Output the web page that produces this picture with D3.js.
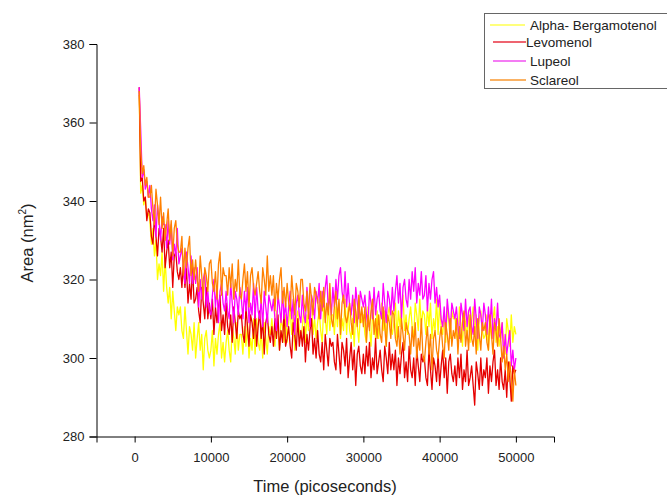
<!DOCTYPE html>
<html>
<head>
<meta charset="utf-8">
<script src="https://cdn.jsdelivr.net/npm/d3@7"></script>
<style>
  body { margin: 0; background: #fff; }
  svg { display: block; font-family: "Liberation Sans", Arial, sans-serif; }
</style>
</head>
<body>
<svg id="chart" width="667" height="498"></svg>
<script>
// first saved frame and sampling step of the trajectory (ps)
const t0 = 600;
const step = 200;

const seriesNames = ["Alpha- Bergamotenol", "Levomenol", "Lupeol", "Sclareol"];
const seriesColors = ["#ffff00", "#e60000", "#ff00ff", "#ff8000"];
const legendColors = ["#ffff50", "#e83040", "#f050f0", "#f89830"];

const xTicks = [0, 10000, 20000, 30000, 40000, 50000];
const yTicks = [280, 300, 320, 340, 360, 380];

// Alpha- Bergamotenol
const bergamotenol = [
  367, 342, 344, 339, 341, 336, 337,
  335, 329, 333, 326, 330, 320, 324, 321, 327, 317,
  325, 318, 314, 318, 310, 317, 312, 307, 313, 311,
  313, 307, 305, 313, 307, 301, 308, 306, 302, 309,
  300, 305, 309, 302, 306, 297, 305, 307, 302, 300,
  302, 307, 298, 305, 301, 306, 309, 300, 304, 299,
  304, 307, 302, 299, 308, 305, 301, 309, 302, 306,
  306, 301, 308, 303, 309, 300, 305, 302, 310, 301,
  310, 304, 302, 307, 300, 309, 305, 301, 308, 306,
  310, 305, 303, 312, 307, 302, 310, 308, 304, 311,
  304, 309, 313, 306, 311, 302, 310, 312, 307, 305,
  308, 313, 304, 311, 307, 312, 315, 306, 310, 305,
  309, 312, 307, 304, 313, 310, 306, 314, 307, 311,
  311, 306, 313, 308, 314, 305, 310, 307, 315, 306,
  313, 307, 305, 310, 303, 312, 308, 304, 311, 309,
  311, 306, 304, 313, 308, 303, 311, 309, 305, 312,
  305, 310, 314, 307, 312, 303, 311, 313, 308, 306,
  309, 314, 305, 312, 308, 313, 316, 307, 311, 306,
  310, 313, 308, 305, 314, 311, 307, 315, 308, 312,
  311, 306, 313, 308, 314, 305, 310, 307, 315, 306,
  314, 308, 306, 311, 304, 313, 309, 305, 312, 310,
  311, 306, 304, 313, 308, 303, 311, 309, 305, 312,
  304, 309, 313, 306, 311, 302, 310, 312, 307, 305,
  306, 311, 302, 309, 305, 310, 313, 304, 308, 303,
  306, 309, 304, 301, 310, 307, 303, 311, 304, 308,
  306
];

// Levomenol
const levomenol = [
  369, 345, 346, 340, 341, 335, 338,
  337, 331, 329, 336, 331, 326, 333, 331, 327, 333,
  323, 327, 330, 323, 327, 318, 326, 327, 322, 320,
  323, 318, 324, 318, 323, 314, 319, 315, 323, 314,
  315, 318, 312, 309, 318, 314, 310, 318, 310, 314,
  310, 315, 306, 313, 309, 313, 316, 307, 311, 306,
  314, 308, 306, 311, 304, 313, 309, 305, 312, 310,
  311, 306, 304, 313, 308, 303, 311, 309, 305, 312,
  303, 308, 312, 305, 310, 301, 309, 311, 306, 304,
  308, 303, 310, 305, 311, 302, 307, 304, 312, 303,
  305, 308, 303, 300, 309, 306, 302, 310, 303, 307,
  303, 308, 299, 306, 302, 307, 310, 301, 305, 300,
  307, 301, 299, 304, 297, 306, 302, 298, 305, 303,
  304, 299, 297, 306, 301, 296, 304, 302, 298, 305,
  295, 300, 304, 297, 302, 293, 301, 303, 298, 296,
  301, 296, 303, 298, 304, 295, 300, 297, 305, 296,
  299, 302, 297, 294, 303, 300, 296, 304, 297, 301,
  297, 302, 293, 300, 296, 301, 304, 295, 299, 294,
  303, 297, 295, 300, 293, 302, 298, 294, 301, 299,
  300, 295, 293, 302, 297, 292, 300, 298, 294, 301,
  293, 298, 302, 295, 300, 291, 299, 301, 296, 294,
  298, 293, 300, 295, 301, 292, 297, 294, 302, 293,
  295, 298, 293, 288, 299, 296, 292, 300, 293, 297,
  295, 300, 291, 298, 294, 299, 302, 293, 297, 292,
  300, 294, 292, 297, 290, 299, 295, 289, 298, 296,
  297
];

// Lupeol
const lupeol = [
  369, 358, 346, 348, 343, 345, 341,
  344, 338, 335, 339, 331, 339, 335, 330, 336, 334,
  334, 328, 335, 329, 334, 325, 329, 326, 333, 324,
  326, 328, 323, 319, 327, 323, 319, 326, 319, 323,
  319, 323, 313, 320, 315, 320, 322, 313, 317, 312,
  311, 316, 320, 313, 318, 309, 317, 319, 314, 312,
  317, 312, 310, 319, 314, 309, 317, 315, 311, 318,
  315, 310, 317, 312, 318, 309, 314, 311, 319, 310,
  318, 312, 310, 315, 308, 317, 313, 309, 316, 314,
  312, 315, 310, 307, 316, 313, 309, 317, 310, 314,
  308, 313, 317, 310, 315, 306, 314, 316, 311, 309,
  316, 311, 309, 318, 313, 308, 316, 314, 310, 317,
  314, 319, 310, 317, 313, 318, 321, 312, 316, 311,
  318, 313, 320, 315, 321, 323, 317, 314, 322, 313,
  319, 313, 311, 316, 309, 318, 314, 310, 317, 315,
  313, 316, 311, 308, 317, 314, 310, 318, 311, 315,
  317, 312, 310, 319, 314, 309, 317, 315, 311, 318,
  312, 317, 321, 314, 319, 310, 318, 320, 315, 313,
  320, 315, 322, 317, 323, 314, 319, 316, 322, 315,
  316, 321, 312, 319, 315, 320, 322, 314, 318, 313,
  316, 310, 308, 313, 306, 315, 311, 307, 314, 312,
  310, 313, 308, 305, 314, 311, 307, 315, 308, 312,
  313, 308, 306, 315, 310, 305, 313, 311, 307, 314,
  311, 306, 313, 308, 315, 305, 310, 307, 314, 306,
  305, 309, 300, 306, 301, 304, 307, 298, 302, 297,
  300
];

// Sclareol
const sclareol = [
  368, 353, 347, 349, 344, 346, 341,
  341, 344, 338, 334, 343, 339, 334, 341, 333, 337,
  330, 334, 338, 330, 335, 326, 333, 335, 329, 327,
  327, 331, 321, 328, 323, 328, 331, 321, 325, 320,
  325, 320, 317, 326, 321, 315, 323, 321, 317, 324,
  325, 319, 317, 322, 315, 324, 327, 316, 323, 321,
  321, 316, 323, 318, 324, 315, 320, 317, 325, 316,
  315, 320, 324, 317, 322, 313, 321, 323, 318, 316,
  319, 322, 317, 314, 323, 320, 316, 326, 317, 321,
  316, 321, 312, 319, 315, 320, 323, 314, 318, 313,
  319, 314, 312, 321, 316, 311, 319, 317, 313, 320,
  320, 314, 312, 317, 310, 319, 315, 311, 318, 316,
  315, 310, 317, 312, 318, 309, 314, 311, 319, 310,
  308, 313, 317, 310, 315, 306, 314, 316, 311, 309,
  311, 314, 309, 306, 315, 312, 308, 316, 309, 313,
  308, 313, 304, 311, 307, 312, 315, 306, 310, 305,
  311, 306, 304, 313, 308, 303, 311, 309, 305, 312,
  311, 305, 303, 308, 301, 310, 306, 302, 309, 307,
  306, 301, 308, 303, 309, 300, 305, 302, 310, 301,
  299, 304, 308, 301, 306, 297, 305, 307, 302, 300,
  305, 308, 303, 300, 309, 306, 302, 310, 303, 307,
  305, 310, 301, 308, 304, 309, 312, 303, 307, 302,
  311, 305, 303, 308, 301, 310, 306, 302, 309, 307,
  309, 304, 302, 311, 306, 301, 309, 307, 303, 310,
  305, 299, 303, 297, 301, 294, 299, 295, 289, 297,
  293
];

const seriesValues = [bergamotenol, levomenol, lupeol, sclareol];

const svg = d3.select("#chart");

const x = d3.scaleLinear().domain([-5000, 55000]).range([96.5, 554]);
const y = d3.scaleLinear().domain([280, 380]).range([436.5, 44]);

// x axis
const xAxis = svg.append("g").attr("transform", `translate(0,${y(280)})`);
xAxis.call(d3.axisBottom(x).tickValues(d3.range(-5000, 55001, 5000)).tickSize(4).tickFormat(""));
xAxis.call(d3.axisBottom(x).tickValues(xTicks).tickSize(6).tickPadding(10).tickFormat(d3.format("d")));
xAxis.selectAll("text").attr("font-size", 13).attr("fill", "#222");

// y axis
const yAxis = svg.append("g").attr("transform", `translate(${x(-5000)},0)`);
yAxis.call(d3.axisLeft(y).tickValues(d3.range(280, 381, 10)).tickSize(5).tickFormat(""));
yAxis.call(d3.axisLeft(y).tickValues(yTicks).tickSize(7).tickPadding(5));
yAxis.selectAll("text").attr("font-size", 13).attr("fill", "#222");

// series
const line = d3.line()
  .x((d, i) => x(t0 + i * step))
  .y(d => y(d));

svg.append("g")
  .selectAll("path")
  .data(seriesValues)
  .join("path")
  .attr("d", line)
  .attr("fill", "none")
  .attr("stroke", (d, i) => seriesColors[i])
  .attr("stroke-width", 1.3)
  .attr("stroke-linejoin", "round");

// axis titles
svg.append("text")
  .attr("x", 325).attr("y", 492)
  .attr("text-anchor", "middle")
  .attr("font-size", 16.5)
  .attr("fill", "#222")
  .text("Time (picoseconds)");

const yt = svg.append("text")
  .attr("transform", "translate(33,243) rotate(-90)")
  .attr("text-anchor", "middle")
  .attr("font-size", 16.5)
  .attr("fill", "#222");
yt.append("tspan").text("Area (nm");
yt.append("tspan").attr("font-size", 10).attr("dy", -7).text("2");
yt.append("tspan").attr("dy", 7).text(")");

// legend
const legend = svg.append("g");
legend.append("rect")
  .attr("x", 484.5).attr("y", 13.5)
  .attr("width", 200).attr("height", 75)
  .attr("fill", "#fff")
  .attr("stroke", "#666");

const rowY = [25, 42, 61, 80];
const lineX = [[490, 525], [493, 526], [493, 526], [490, 526]];
const textX = [530, 526, 530, 530];
seriesNames.forEach((name, i) => {
  legend.append("line")
    .attr("x1", lineX[i][0]).attr("x2", lineX[i][1])
    .attr("y1", rowY[i]).attr("y2", rowY[i])
    .attr("stroke", legendColors[i])
    .attr("stroke-width", 1.4);
  legend.append("text")
    .attr("x", textX[i]).attr("y", rowY[i] + 5)
    .attr("font-size", 13.5)
    .attr("fill", "#222")
    .text(name);
});
</script>
</body>
</html>
